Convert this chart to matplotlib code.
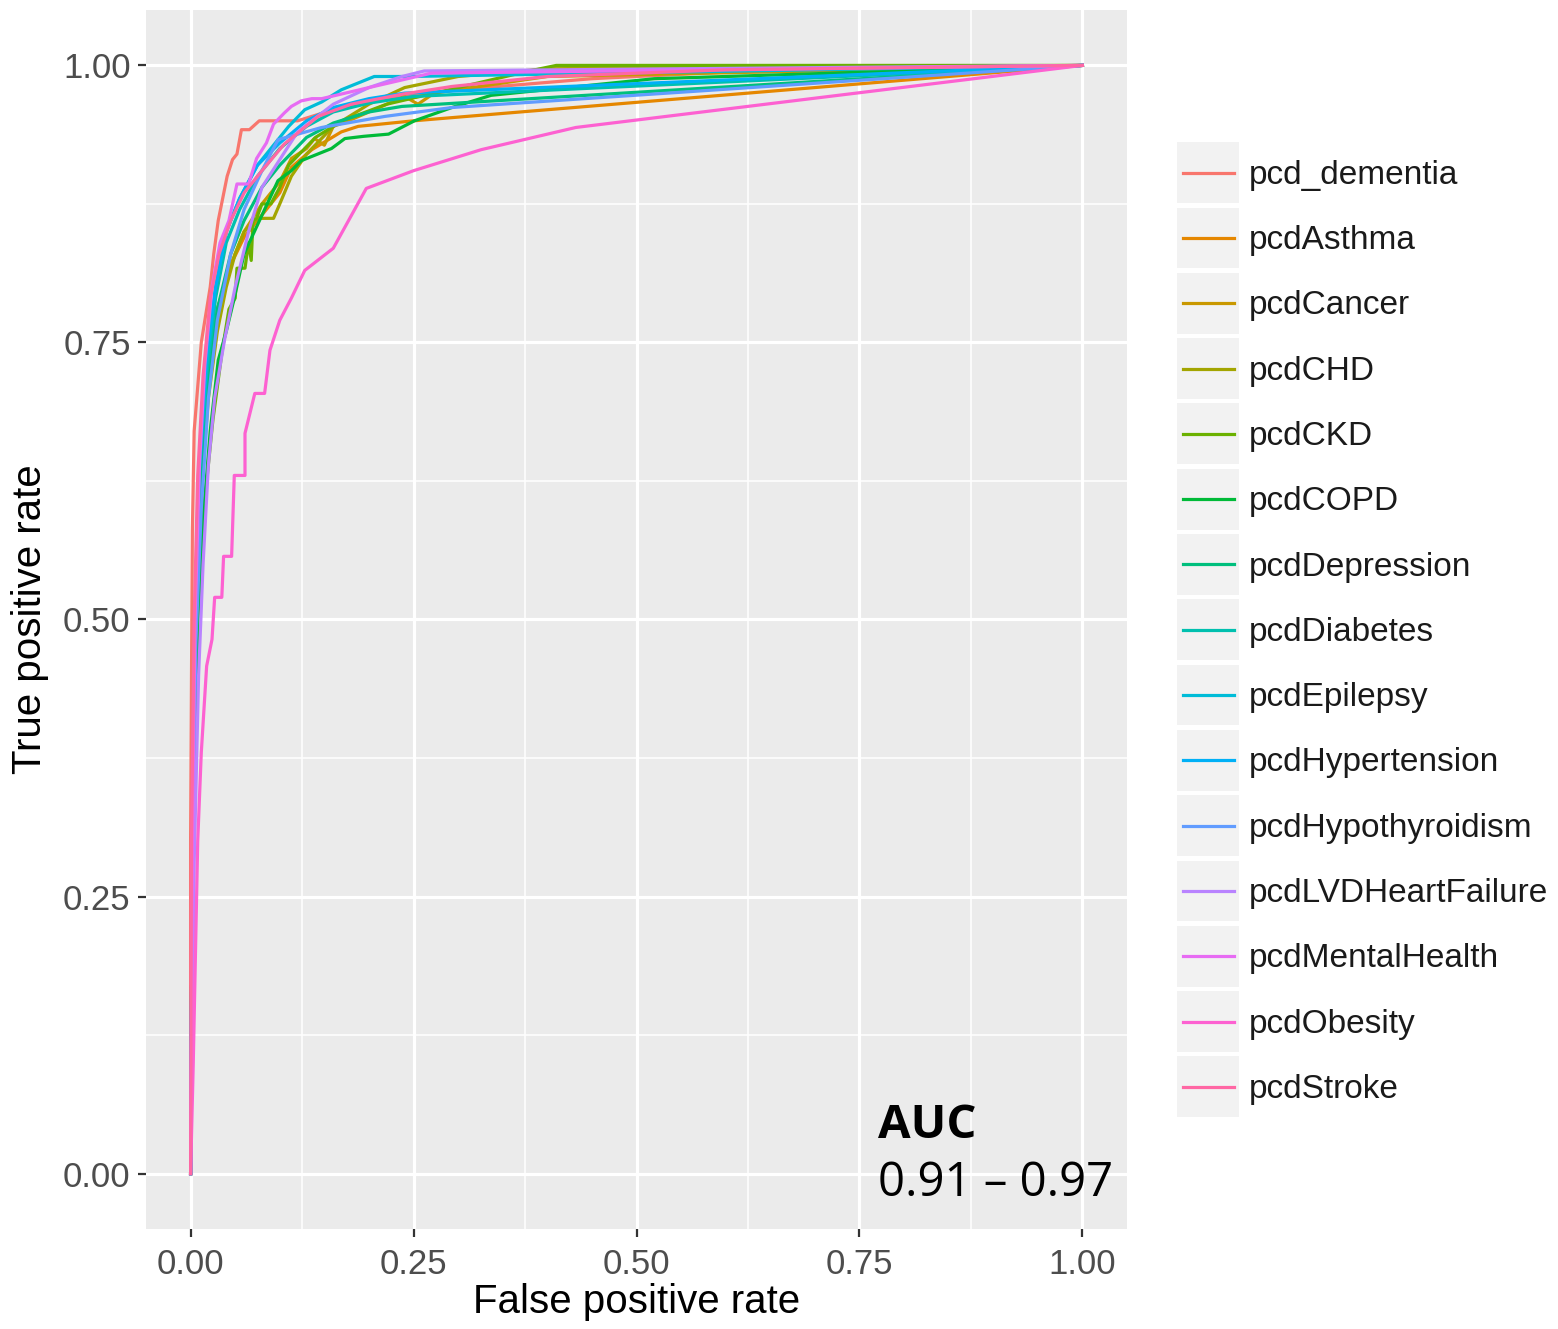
import matplotlib
matplotlib.use("Agg")
import matplotlib.pyplot as plt
from matplotlib.patches import Rectangle

# ---------------- data ----------------
categories = ["pcd_dementia", "pcdAsthma", "pcdCancer", "pcdCHD", "pcdCKD", "pcdCOPD",
              "pcdDepression", "pcdDiabetes", "pcdEpilepsy", "pcdHypertension",
              "pcdHypothyroidism", "pcdLVDHeartFailure", "pcdMentalHealth",
              "pcdObesity", "pcdStroke"]

colors = ["#F8766D", "#E58700", "#C99800", "#A3A500", "#6BB100", "#00BA38", "#00BF7D",
          "#00C0AF", "#00BCD8", "#00B0F6", "#619CFF", "#B983FF", "#E76BF3", "#FD61D1",
          "#FF67A4"]

dementia_fpr = [0, 0.0, 0.001, 0.002, 0.004, 0.008, 0.012, 0.016, 0.022, 0.026, 0.031, 0.036,
                0.041, 0.047, 0.052, 0.057, 0.066, 0.077, 0.12, 0.16, 0.22, 0.3, 0.45, 0.6, 1]
dementia_tpr = [0, 0.3, 0.45, 0.58, 0.67, 0.71, 0.75, 0.77, 0.8, 0.83, 0.86, 0.88,
                0.9, 0.915, 0.92, 0.942, 0.942, 0.95, 0.95, 0.96, 0.97, 0.978, 0.988, 0.994, 1]

asthma_fpr = [0, 0.002, 0.006, 0.012, 0.02, 0.03, 0.045, 0.06, 0.08, 0.1, 0.113, 0.136,
              0.169, 0.188, 0.25, 1]
asthma_tpr = [0, 0.3, 0.5, 0.62, 0.72, 0.78, 0.82, 0.845, 0.865, 0.885, 0.908, 0.924,
              0.94, 0.945, 0.95, 1]

cancer_fpr = [0, 0.002, 0.006, 0.012, 0.02, 0.03, 0.045, 0.06, 0.08, 0.1, 0.113, 0.13,
              0.139, 0.15, 0.16, 0.177, 0.2, 0.24, 0.255, 0.273, 0.4, 1]
cancer_tpr = [0, 0.3, 0.5, 0.63, 0.72, 0.78, 0.82, 0.85, 0.875, 0.895, 0.916, 0.925,
              0.934, 0.928, 0.945, 0.95, 0.958, 0.972, 0.965, 0.975, 0.99, 1]

chd_fpr = [0, 0.002, 0.006, 0.012, 0.02, 0.03, 0.04, 0.05, 0.06, 0.07, 0.076, 0.093, 0.1,
           0.113, 0.13, 0.16, 0.2, 0.24, 0.3, 0.4, 1]
chd_tpr = [0, 0.3, 0.5, 0.62, 0.7, 0.76, 0.8, 0.83, 0.85, 0.858, 0.862, 0.862, 0.875,
           0.9, 0.92, 0.945, 0.965, 0.98, 0.99, 0.997, 1]

ckd_fpr = [0, 0.003, 0.008, 0.015, 0.025, 0.035, 0.043, 0.05, 0.052, 0.061, 0.065, 0.068,
           0.07, 0.074, 0.08, 0.09, 0.1, 0.11, 0.14, 0.17, 0.22, 0.3, 0.38, 0.41, 1]
ckd_tpr = [0, 0.3, 0.5, 0.6, 0.68, 0.74, 0.78, 0.79, 0.817, 0.817, 0.84, 0.824,
           0.86, 0.862, 0.875, 0.875, 0.89, 0.91, 0.935, 0.95, 0.965, 0.98, 0.995, 1.0, 1]

copd_fpr = [0, 0.003, 0.008, 0.015, 0.022, 0.031, 0.04, 0.049, 0.06, 0.083, 0.098, 0.113,
            0.124, 0.158, 0.173, 0.194, 0.222, 0.251, 0.293, 0.337, 0.52, 1]
copd_tpr = [0, 0.3, 0.5, 0.6, 0.67, 0.734, 0.76, 0.79, 0.83, 0.87, 0.896, 0.905,
            0.914, 0.925, 0.934, 0.936, 0.938, 0.95, 0.962, 0.973, 0.988, 1]

depression_fpr = [0, 0.002, 0.006, 0.012, 0.02, 0.03, 0.045, 0.06, 0.08, 0.1, 0.13, 0.16,
                  0.2, 0.237, 1]
depression_tpr = [0, 0.3, 0.5, 0.63, 0.72, 0.78, 0.83, 0.86, 0.89, 0.91, 0.935, 0.948,
                  0.958, 0.963, 1]

diabetes_fpr = [0, 0.002, 0.005, 0.01, 0.018, 0.028, 0.04, 0.055, 0.075, 0.1, 0.13, 0.16,
                0.2, 0.25, 1]
diabetes_tpr = [0, 0.3, 0.5, 0.63, 0.72, 0.79, 0.84, 0.87, 0.9, 0.925, 0.945, 0.958,
                0.966, 0.972, 1]

epilepsy_fpr = [0, 0.002, 0.005, 0.01, 0.018, 0.028, 0.04, 0.055, 0.075, 0.094, 0.11,
                0.128, 0.147, 0.169, 0.206, 0.244, 1]
epilepsy_tpr = [0, 0.3, 0.5, 0.64, 0.73, 0.8, 0.85, 0.88, 0.91, 0.929, 0.945,
                0.96, 0.967, 0.978, 0.99, 0.99, 1]

hypertension_fpr = [0, 0.002, 0.005, 0.01, 0.018, 0.028, 0.04, 0.055, 0.075, 0.1, 0.13,
                    0.16, 0.2, 0.24, 1]
hypertension_tpr = [0, 0.3, 0.5, 0.64, 0.74, 0.8, 0.85, 0.88, 0.91, 0.93, 0.95,
                    0.962, 0.97, 0.975, 1]

hypothyroid_fpr = [0, 0.002, 0.006, 0.012, 0.02, 0.03, 0.045, 0.06, 0.08, 0.098, 0.147,
                   0.218, 0.293, 1]
hypothyroid_tpr = [0, 0.28, 0.48, 0.6, 0.7, 0.77, 0.83, 0.87, 0.905, 0.933, 0.944,
                   0.954, 0.962, 1]

lvd_fpr = [0, 0.004, 0.009, 0.014, 0.02, 0.027, 0.038, 0.05, 0.065, 0.08, 0.1, 0.12,
           0.16, 0.2, 0.237, 0.262, 1]
lvd_tpr = [0, 0.28, 0.45, 0.55, 0.64, 0.7, 0.752, 0.8, 0.85, 0.89, 0.915, 0.94,
           0.965, 0.98, 0.99, 0.995, 1]

mental_fpr = [0, 0.002, 0.005, 0.01, 0.016, 0.024, 0.033, 0.043, 0.052, 0.065, 0.074,
              0.085, 0.093, 0.105, 0.113, 0.124, 0.136, 0.147, 0.2, 0.27, 1]
mental_tpr = [0, 0.3, 0.5, 0.64, 0.73, 0.8, 0.84, 0.86, 0.893, 0.893, 0.916,
              0.93, 0.947, 0.957, 0.963, 0.968, 0.97, 0.97, 0.98, 0.993, 1]

obesity_fpr = [0, 0.003, 0.008, 0.012, 0.018, 0.024, 0.027, 0.035, 0.037, 0.046, 0.049,
               0.061, 0.061, 0.072, 0.083, 0.089, 0.1, 0.113, 0.128, 0.16, 0.197, 0.25,
               0.326, 0.432, 1]
obesity_tpr = [0, 0.1, 0.3, 0.38, 0.458, 0.482, 0.52, 0.52, 0.557, 0.557, 0.63,
               0.63, 0.668, 0.704, 0.704, 0.743, 0.77, 0.79, 0.815, 0.835, 0.889, 0.905,
               0.924, 0.944, 1]

stroke_fpr = [0, 0.001, 0.004, 0.008, 0.014, 0.022, 0.032, 0.045, 0.06, 0.08, 0.105,
              0.143, 0.18, 0.237, 0.293, 0.4, 0.6, 1]
stroke_tpr = [0, 0.3, 0.5, 0.63, 0.72, 0.79, 0.83, 0.86, 0.885, 0.905, 0.929,
              0.954, 0.965, 0.974, 0.981, 0.99, 0.996, 1]

fpr_list = [dementia_fpr, asthma_fpr, cancer_fpr, chd_fpr, ckd_fpr, copd_fpr, depression_fpr,
            diabetes_fpr, epilepsy_fpr, hypertension_fpr, hypothyroid_fpr, lvd_fpr,
            mental_fpr, obesity_fpr, stroke_fpr]
tpr_list = [dementia_tpr, asthma_tpr, cancer_tpr, chd_tpr, ckd_tpr, copd_tpr, depression_tpr,
            diabetes_tpr, epilepsy_tpr, hypertension_tpr, hypothyroid_tpr, lvd_tpr,
            mental_tpr, obesity_tpr, stroke_tpr]

x_ticks = [0.0, 0.25, 0.5, 0.75, 1.0]
x_tick_labels = ["0.00", "0.25", "0.50", "0.75", "1.00"]
y_ticks = [0.0, 0.25, 0.5, 0.75, 1.0]
y_tick_labels = ["0.00", "0.25", "0.50", "0.75", "1.00"]
minor_ticks = [0.125, 0.375, 0.625, 0.875]

# ---------------- figure ----------------
W, H = 1558, 1329
plt.rcParams['font.family'] = ['Liberation Sans', 'DejaVu Sans']
fig = plt.figure(figsize=(W / 100, H / 100), dpi=100)
fig.patch.set_facecolor("white")

ax = fig.add_axes([146 / W, 1 - 1229 / H, (1127 - 146) / W, (1229 - 10) / H])
ax.set_facecolor("#EBEBEB")
ax.set_xlim(-0.05, 1.05)
ax.set_ylim(-0.05, 1.05)
for s in ax.spines.values():
    s.set_visible(False)

ax.set_xticks(x_ticks)
ax.set_xticklabels(x_tick_labels)
ax.set_yticks(y_ticks)
ax.set_yticklabels(y_tick_labels)
ax.set_xticks(minor_ticks, minor=True)
ax.set_yticks(minor_ticks, minor=True)
ax.tick_params(axis="both", which="major", length=6, width=1.6, color="#333333",
               labelsize=25, labelcolor="#4D4D4D")
ax.tick_params(axis="x", which="major", pad=8)
ax.tick_params(axis="y", which="major", pad=5)
ax.tick_params(axis="both", which="minor", length=0)
ax.grid(True, which="major", color="white", linewidth=2.3)
ax.grid(True, which="minor", color="white", linewidth=1.1)
ax.set_axisbelow(True)

for fx, ty, c in zip(fpr_list, tpr_list, colors):
    ax.plot(fx, ty, color=c, linewidth=2.3, solid_joinstyle="round", zorder=3)

ax.set_xlabel("False positive rate", fontsize=29, color="black", labelpad=1)
ax.set_ylabel("True positive rate", fontsize=29, color="black", labelpad=10)

ax.text(0.771, 0.032, "AUC", fontsize=34, fontweight="bold",
        family=["Open Sans", "DejaVu Sans"],
        color="black", va="baseline", ha="left", zorder=5)
ax.text(0.771, -0.020, "0.91 \u2013 0.97", fontsize=34, family=["Open Sans", "DejaVu Sans"],
        color="black", va="baseline", ha="left", zorder=5)

# ---------------- legend ----------------
row_h = 65.3
top = 140
n = len(categories)
lax = fig.add_axes([1177 / W, 1 - (top + n * row_h) / H, (W - 1177) / W, n * row_h / H])
lax.set_xlim(0, W - 1177)
lax.set_ylim(n, 0)
lax.axis("off")
for i, (cat, c) in enumerate(zip(categories, colors)):
    lax.add_patch(Rectangle((0, i + 0.035), 62, 0.93, facecolor="#F2F2F2", edgecolor="none"))
    lax.plot([6, 57], [i + 0.5, i + 0.5], color=c, linewidth=2.3)
    lax.text(72, i + 0.54, cat, fontsize=24, color="#1A1A1A", va="center", ha="left")

fig.savefig("out.png", dpi=100)
